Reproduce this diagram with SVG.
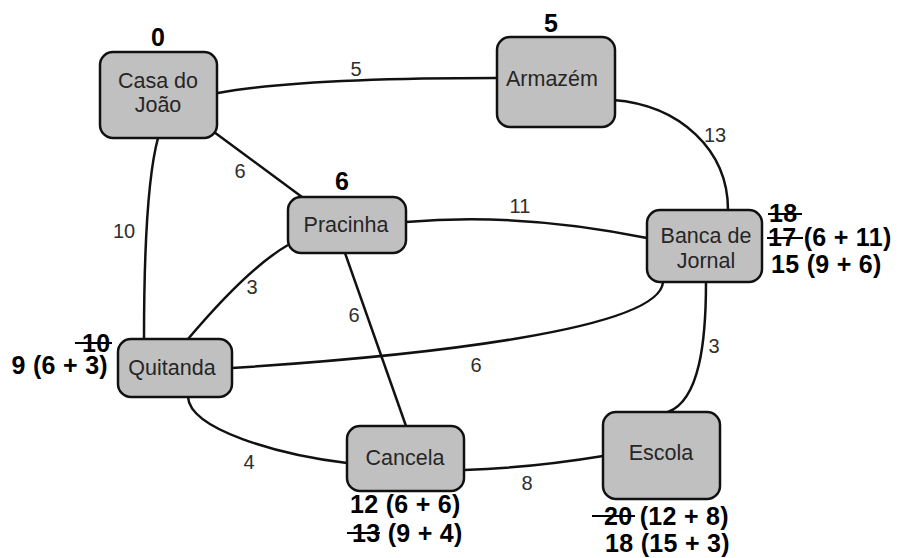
<svg xmlns="http://www.w3.org/2000/svg" width="901" height="558" viewBox="0 0 901 558">
  <style>
    .node rect { fill: #c0c0c0; stroke: #111; stroke-width: 2.5; }
    .node text { font-family: "Liberation Sans", Arial, sans-serif; font-size: 21.5px; fill: #262626; text-anchor: middle; }
    .edges path { fill: none; stroke: #111; stroke-width: 2.5; }
    .weight { font-family: "Liberation Sans", Arial, sans-serif; font-size: 20px; fill: #2e2e2e; text-anchor: middle; }
    .cost { font-family: "Liberation Sans", Arial, sans-serif; font-size: 25px; font-weight: bold; fill: #000; letter-spacing: 0.3px; }
    .strike { stroke: #000; stroke-width: 2; }
  </style>
  <rect width="901" height="558" fill="#fff"/>

  <!-- connectors -->
  <g class="edges">
    <path d="M218,93 Q300,78 497,78"/>
    <path d="M613,100 C680,105 728,150 728,210"/>
    <path d="M214,132 L302,197"/>
    <path d="M158,138 Q144,190 144,339"/>
    <path d="M406,222 Q520,212 647,238"/>
    <path d="M288,245 Q248,268 188,339"/>
    <path d="M345,253 L406,426"/>
    <path d="M232,368 C420,356 660,330 663,282"/>
    <path d="M706,282 C706,340 700,400 668,412"/>
    <path d="M188,397 C190,430 280,455 347,463"/>
    <path d="M464,470 Q530,468 603,456"/>
  </g>

  <!-- edge weights -->
  <g class="weights">
    <text class="weight" x="356" y="76">5</text>
    <text class="weight" x="715" y="142">13</text>
    <text class="weight" x="240" y="178">6</text>
    <text class="weight" x="124" y="238">10</text>
    <text class="weight" x="252" y="294">3</text>
    <text class="weight" x="520" y="213">11</text>
    <text class="weight" x="354" y="322">6</text>
    <text class="weight" x="476" y="372">6</text>
    <text class="weight" x="714" y="353">3</text>
    <text class="weight" x="249" y="469">4</text>
    <text class="weight" x="527" y="490">8</text>
  </g>

  <!-- nodes -->
  <g id="casa" class="node">
    <rect x="100" y="52" width="117" height="86" rx="13"/>
    <text x="158" y="88">Casa do</text>
    <text x="158" y="112">João</text>
  </g>
  <g id="armazem" class="node">
    <rect x="497" y="37" width="118" height="90" rx="13"/>
    <text x="552" y="86">Armazém</text>
  </g>
  <g id="banca" class="node">
    <rect x="647" y="210" width="115" height="72" rx="13"/>
    <text x="706" y="243">Banca de</text>
    <text x="706" y="268">Jornal</text>
  </g>
  <g id="pracinha" class="node">
    <rect x="288" y="197" width="118" height="56" rx="13"/>
    <text x="346" y="232">Pracinha</text>
  </g>
  <g id="quitanda" class="node">
    <rect x="118" y="339" width="114" height="58" rx="13"/>
    <text x="172" y="375">Quitanda</text>
  </g>
  <g id="cancela" class="node">
    <rect x="347" y="426" width="117" height="65" rx="13"/>
    <text x="405" y="465">Cancela</text>
  </g>
  <g id="escola" class="node">
    <rect x="603" y="412" width="117" height="87" rx="13"/>
    <text x="661" y="460">Escola</text>
  </g>

  <!-- path costs -->
  <g class="costs">
    <text class="cost" x="158" y="46" text-anchor="middle">0</text>
    <text class="cost" x="551" y="32" text-anchor="middle">5</text>
    <text class="cost" x="342" y="190" text-anchor="middle">6</text>

    <text class="cost" x="769" y="222">18</text>
    <line class="strike" x1="768" y1="214" x2="802" y2="214"/>
    <text class="cost" x="768" y="246">17 (6 + 11)</text>
    <line class="strike" x1="767" y1="238" x2="803" y2="238"/>
    <text class="cost" x="771" y="273">15 (9 + 6)</text>

    <text class="cost" x="82" y="352">10</text>
    <line class="strike" x1="75" y1="343" x2="112" y2="343"/>
    <text class="cost" x="108" y="374" text-anchor="end">9 (6 + 3)</text>

    <text class="cost" x="350" y="513">12 (6 + 6)</text>
    <text class="cost" x="352" y="542">13 (9 + 4)</text>
    <line class="strike" x1="347" y1="533" x2="380" y2="533"/>

    <text class="cost" x="604" y="525">20 (12 + 8)</text>
    <line class="strike" x1="592" y1="516" x2="635" y2="516"/>
    <text class="cost" x="605" y="552">18 (15 + 3)</text>
  </g>
</svg>
